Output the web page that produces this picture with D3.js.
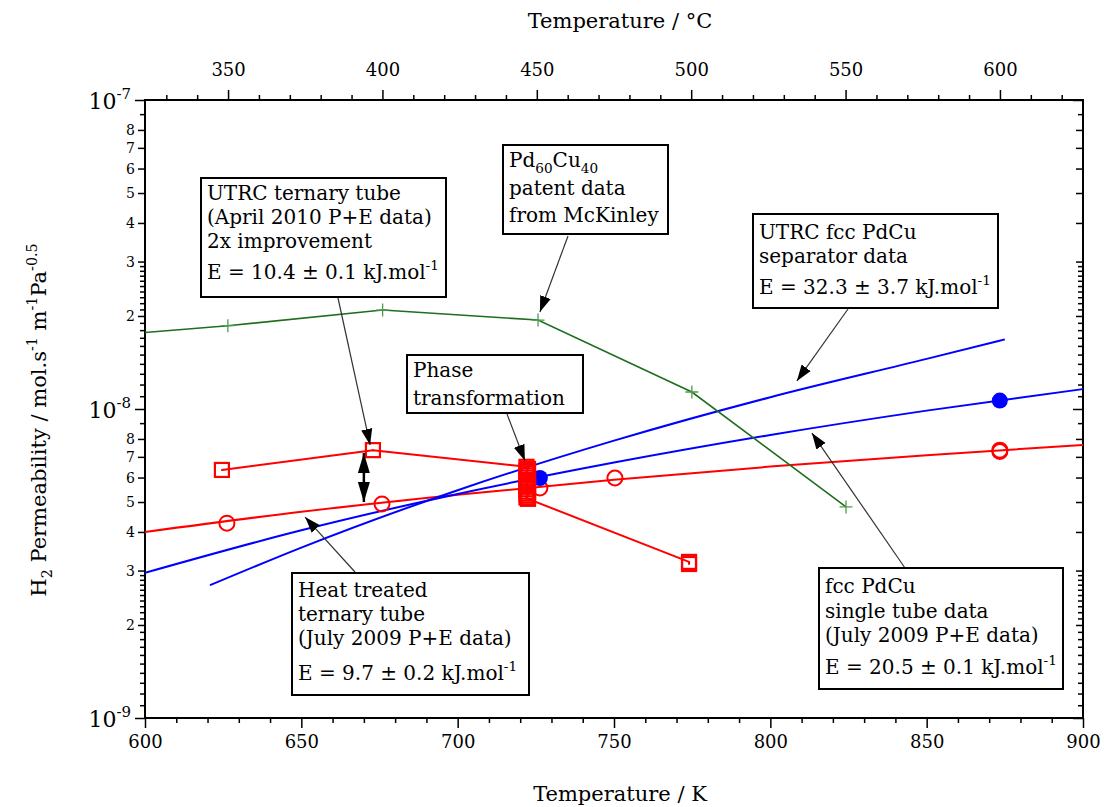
<!DOCTYPE html>
<html>
<head>
<meta charset="utf-8">
<script src="https://cdn.jsdelivr.net/npm/d3@7"></script>
<style>
  body { margin: 0; background: #fff; }
  svg text { font-family: "DejaVu Serif", serif; fill: #000; }
</style>
</head>
<body>
<div id="chart"></div>
<script>
// tamaño del svg
const width = 1104,
  height = 807;
const margin = { top: 100, right: 21, bottom: 89, left: 145 };
const innerWidth = width - margin.left - margin.right;
const innerHeight = height - margin.top - margin.bottom;

// ticks de los ejes
const kelvinMajor = [600, 650, 700, 750, 800, 850, 900];
const celsiusMajor = [350, 400, 450, 500, 550, 600];
const minorLabels = [2, 3, 4, 5, 6, 7, 8];

// Pd60Cu40, datos de patente (McKinley)
const mckinleyT = [573, 626.5, 676, 725.7, 774.9, 824.2];
const mckinleyP = [1.68e-8, 1.86e-8, 2.09e-8, 1.94e-8, 1.135e-8, 4.82e-9];

// tubo ternario UTRC (abril 2010), con la serie de la transformación de fase a 722 K
const ternaryT = [624.6, 672.9, 722, 722.5, 722, 722.5, 722, 722.5, 722, 722.5, 722, 722.5, 722, 722.5, 722, 722.5, 722, 722.5, 774, 774];
const ternaryP = [6.35e-9, 7.36e-9, 6.5e-9, 6.4e-9, 6.3e-9, 6.2e-9, 6.1e-9, 6.0e-9, 5.9e-9, 5.8e-9, 5.7e-9, 5.6e-9, 5.5e-9, 5.4e-9, 5.32e-9, 5.24e-9, 5.17e-9, 5.12e-9, 3.2e-9, 3.15e-9];

// tubo ternario tratado (julio 2009)
const heatT = [626.2, 675.8, 726.3, 750.3, 873.4, 873.4];
const heatP = [4.27e-9, 4.93e-9, 5.55e-9, 5.98e-9, 7.36e-9, 7.28e-9];
const heatFitT = [600, 650, 700, 750, 800, 850, 900];
const heatFitP = [4.0e-9, 4.65e-9, 5.28e-9, 5.9e-9, 6.51e-9, 7.09e-9, 7.65e-9];

// fcc PdCu tubo simple (julio 2009)
const singleT = [726.3, 873.4];
const singleP = [5.98e-9, 1.065e-8];
const singleFitT = [600, 650, 700, 750, 800, 850, 900];
const singleFitP = [2.95e-9, 4.05e-9, 5.31e-9, 6.71e-9, 8.24e-9, 9.88e-9, 1.16e-8];

// separador fcc PdCu UTRC
const separatorT = [620.8, 650, 700, 750, 800, 850, 875];
const separatorP = [2.69e-9, 3.56e-9, 5.46e-9, 7.9e-9, 1.092e-8, 1.453e-8, 1.68e-8];

const red = "#ff0000", blue = "#0000ff", green = "#1f6e1f", greenMark = "#4f9a4f";

const zip = (a, b) => a.map((v, i) => ({ t: v, p: b[i] }));

const x = d3.scaleLinear().domain([600, 900]).range([0, innerWidth]);
const xC = d3.scaleLinear().domain([323.1, 626.9]).range([0, innerWidth]);
const y = d3.scaleLog().domain([1e-9, 1e-7]).range([innerHeight, 0]);

const svg = d3.select("#chart").append("svg")
  .attr("width", width).attr("height", height);

const mainG = svg.append("g")
  .attr("transform", `translate(${margin.left},${margin.top})`);

svg.append("defs").append("clipPath").attr("id", "clip")
  .append("rect").attr("width", innerWidth).attr("height", innerHeight);

// escribir texto con sub/superindices (el desplazamiento se deshace en el siguiente tspan)
function richText(sel, parts, size) {
  let back = 0;
  parts.forEach(p => {
    if (p.sub) {
      sel.append("tspan").attr("font-size", size * 0.68).attr("dy", back + size * 0.28).text(p.sub);
      back = -size * 0.28;
    } else if (p.sup) {
      sel.append("tspan").attr("font-size", size * 0.68).attr("dy", back - size * 0.45).text(p.sup);
      back = size * 0.45;
    } else {
      sel.append("tspan").attr("dy", back).text(p.t);
      back = 0;
    }
  });
}

// ejes
const drawAxis = (axis, transform, cls) => {
  const g = mainG.append("g").attr("class", cls).attr("transform", transform).call(axis);
  g.select(".domain").remove();
  g.selectAll("line").attr("stroke", "#000").attr("stroke-width", 1.5);
  return g;
};

const xb = drawAxis(d3.axisBottom(x).tickValues(kelvinMajor).tickSize(10).tickPadding(7).tickFormat(d3.format("d")),
  `translate(0,${innerHeight})`, "xb");
xb.selectAll("text").attr("font-size", 18);
drawAxis(d3.axisBottom(x).tickValues(d3.range(610, 900, 10).filter(v => v % 50)).tickSize(5).tickFormat(""),
  `translate(0,${innerHeight})`, "xbm");

const xt = drawAxis(d3.axisTop(xC).tickValues(celsiusMajor).tickSize(10).tickPadding(14).tickFormat(d3.format("d")),
  "translate(0,0)", "xt");
xt.selectAll("text").attr("font-size", 18);
drawAxis(d3.axisTop(xC).tickValues(d3.range(330, 627, 10).filter(v => v % 50)).tickSize(5).tickFormat(""),
  "translate(0,0)", "xtm");

// eje y
const decades = [1e-9, 1e-8, 1e-7];
const labeled = [], tiny = [];
[1e-9, 1e-8].forEach(d => {
  for (let m = 2; m <= 9; m++) (minorLabels.includes(m) ? labeled : tiny).push(m * d);
  for (let m = 1.1; m < 2.95; m += 0.1) {
    const v = Math.round(m * 10) / 10;
    if (v !== 2) tiny.push(v * d);
  }
});

const yl = drawAxis(d3.axisLeft(y).tickValues(decades).tickSize(10).tickFormat(""), "translate(0,0)", "yl");
yl.selectAll(".tick").append("text")
  .attr("x", -14).attr("y", 8).attr("text-anchor", "end").attr("font-size", 22)
  .each(function (d) {
    richText(d3.select(this), [{ t: "10" }, { sup: String(Math.round(Math.log10(d))) }], 22);
  });
const ym = drawAxis(d3.axisLeft(y).tickValues(labeled).tickSize(7).tickPadding(3)
  .tickFormat(d => String(Math.round(d / Math.pow(10, Math.floor(Math.log10(d) + 1e-9))))), "translate(0,0)", "ym");
ym.selectAll("text").attr("font-size", 14);
drawAxis(d3.axisLeft(y).tickValues(tiny).tickSize(5).tickFormat(""), "translate(0,0)", "yt");

drawAxis(d3.axisLeft(y).tickValues(decades).tickSize(10).tickFormat(""), `translate(${innerWidth},0)`, "yr")
  .selectAll("line").attr("x2", -10);
drawAxis(d3.axisLeft(y).tickValues(labeled).tickSize(7).tickFormat(""), `translate(${innerWidth},0)`, "yrm")
  .selectAll("line").attr("x2", -7);
drawAxis(d3.axisLeft(y).tickValues(tiny).tickSize(5).tickFormat(""), `translate(${innerWidth},0)`, "yrt")
  .selectAll("line").attr("x2", -5);

// marco
mainG.append("rect").attr("width", innerWidth).attr("height", innerHeight)
  .attr("fill", "none").attr("stroke", "#000").attr("stroke-width", 2);

// títulos
svg.append("text").attr("x", 620).attr("y", 28).attr("text-anchor", "middle").attr("font-size", 21)
  .text("Temperature / \u00b0C");
svg.append("text").attr("x", 620).attr("y", 801).attr("text-anchor", "middle").attr("font-size", 21)
  .text("Temperature / K");
const yTitle = svg.append("text").attr("transform", "translate(46,420) rotate(-90)")
  .attr("text-anchor", "middle").attr("font-size", 21);
richText(yTitle, [{ t: "H" }, { sub: "2" }, { t: " Permeability /  mol.s" }, { sup: "-1" }, { t: " m" },
  { sup: "-1" }, { t: "Pa" }, { sup: "-0.5" }], 21);

// datos
const plot = mainG.append("g").attr("clip-path", "url(#clip)");
const line = d3.line().x(d => x(d.t)).y(d => y(d.p));
const fitLine = d3.line().x(d => x(d.t)).y(d => y(d.p)).curve(d3.curveMonotoneX);

const addLine = (data, color, w, gen) => plot.append("path").datum(data)
  .attr("fill", "none").attr("stroke", color).attr("stroke-width", w).attr("d", gen);

addLine(zip(heatFitT, heatFitP), red, 2, fitLine);
addLine(zip(singleFitT, singleFitP), blue, 2, fitLine);
addLine(zip(separatorT, separatorP), blue, 2, fitLine);
addLine(zip(mckinleyT, mckinleyP), green, 1.6, line);
addLine(zip(ternaryT, ternaryP), red, 2, line);

// marcadores
plot.selectAll(".plus").data(zip(mckinleyT, mckinleyP)).enter().append("path")
  .attr("transform", d => `translate(${x(d.t)},${y(d.p)})`)
  .attr("d", "M-6.5,0H6.5M0,-6.5V6.5").attr("stroke", greenMark).attr("stroke-width", 1.3);

plot.selectAll(".hc").data(zip(heatT, heatP)).enter().append("circle")
  .attr("cx", d => x(d.t)).attr("cy", d => y(d.p)).attr("r", 7.5)
  .attr("fill", "none").attr("stroke", red).attr("stroke-width", 2);

plot.selectAll(".bc").data(zip(singleT, singleP)).enter().append("circle")
  .attr("cx", d => x(d.t)).attr("cy", d => y(d.p)).attr("r", 8).attr("fill", blue);

plot.selectAll(".sq").data(zip(ternaryT, ternaryP)).enter().append("rect")
  .attr("x", d => x(d.t) - 7).attr("y", d => y(d.p) - 7).attr("width", 14).attr("height", 14)
  .attr("fill", "none").attr("stroke", red).attr("stroke-width", 2.2);
plot.selectAll(".sqc").data(zip(ternaryT, ternaryP)).enter().append("circle")
  .attr("cx", d => x(d.t)).attr("cy", d => y(d.p)).attr("r", 1).attr("fill", red);

// flechas
const defs = svg.select("defs");
defs.append("marker").attr("id", "head").attr("viewBox", "0 0 10 10")
  .attr("refX", 10).attr("refY", 5).attr("markerWidth", 16).attr("markerHeight", 16)
  .attr("markerUnits", "userSpaceOnUse").attr("orient", "auto")
  .append("path").attr("d", "M0,1.5L10,5L0,8.5Z").attr("fill", "#000");
defs.append("marker").attr("id", "head2").attr("viewBox", "0 0 10 10")
  .attr("refX", 10).attr("refY", 5).attr("markerWidth", 20).attr("markerHeight", 20)
  .attr("markerUnits", "userSpaceOnUse").attr("orient", "auto-start-reverse")
  .append("path").attr("d", "M0,2L10,5L0,8Z").attr("fill", "#000");

// flecha doble entre cuadrado y círculo (670 K)
mainG.append("line")
  .attr("x1", x(670)).attr("x2", x(670)).attr("y1", y(7.2e-9)).attr("y2", y(5.0e-9))
  .attr("stroke", "#000").attr("stroke-width", 2.5)
  .attr("marker-start", "url(#head2)").attr("marker-end", "url(#head2)");

// anotaciones: caja en píxeles, punta de flecha en datos
const notes = [
  { box: [201, 178, 245, 119], base: [22, 46, 70, 101], tail: [338, 298], tip: [672, 7.65e-9],
    lines: [[{ t: "UTRC ternary tube" }], [{ t: "(April 2010 P+E data)" }], [{ t: "2x improvement" }],
      [{ t: "E = 10.4 \u00b1 0.1 kJ.mol" }, { sup: "-1" }]] },
  { box: [503, 145, 165, 89], base: [22, 50, 77], tail: [568, 236], tip: [726.3, 2.06e-8],
    lines: [[{ t: "Pd" }, { sub: "60" }, { t: "Cu" }, { sub: "40" }], [{ t: "patent data" }], [{ t: "from McKinley" }]] },
  { box: [753, 214, 245, 94], base: [25, 49, 80], tail: [848, 309], tip: [808.5, 1.233e-8],
    lines: [[{ t: "UTRC fcc PdCu" }], [{ t: "separator data" }], [{ t: "E = 32.3 \u00b1 3.7 kJ.mol" }, { sup: "-1" }]] },
  { box: [407, 355, 176, 58], base: [22, 50], tail: [507, 414], tip: [721.5, 6.8e-9],
    lines: [[{ t: "Phase" }], [{ t: "transformation" }]] },
  { box: [292, 573, 237, 122], base: [24, 48, 72, 107], tail: [355, 572], tip: [651.2, 4.47e-9],
    lines: [[{ t: "Heat treated" }], [{ t: "ternary tube" }], [{ t: "(July 2009 P+E data)" }],
      [{ t: "E = 9.7 \u00b1 0.2 kJ.mol" }, { sup: "-1" }]] },
  { box: [819, 568, 244, 121], base: [25, 50, 74, 106], tail: [905, 568], tip: [813.3, 8.36e-9],
    lines: [[{ t: "fcc PdCu" }], [{ t: "single tube data" }], [{ t: "(July 2009 P+E data)" }],
      [{ t: "E = 20.5 \u00b1 0.1 kJ.mol" }, { sup: "-1" }]] }
];

notes.forEach(n => {
  svg.append("line")
    .attr("x1", n.tail[0]).attr("y1", n.tail[1])
    .attr("x2", margin.left + x(n.tip[0])).attr("y2", margin.top + y(n.tip[1]))
    .attr("stroke", "#333").attr("stroke-width", 1.2).attr("marker-end", "url(#head)");
});

notes.forEach(n => {
  const [bx, by, bw, bh] = n.box;
  const g = svg.append("g").attr("transform", `translate(${bx},${by})`);
  g.append("rect").attr("width", bw).attr("height", bh)
    .attr("fill", "#fff").attr("stroke", "#000").attr("stroke-width", 2);
  n.lines.forEach((parts, i) => {
    const t = g.append("text").attr("x", 6).attr("y", n.base[i]).attr("font-size", 20);
    richText(t, parts, 20);
  });
});
</script>
</body>
</html>
